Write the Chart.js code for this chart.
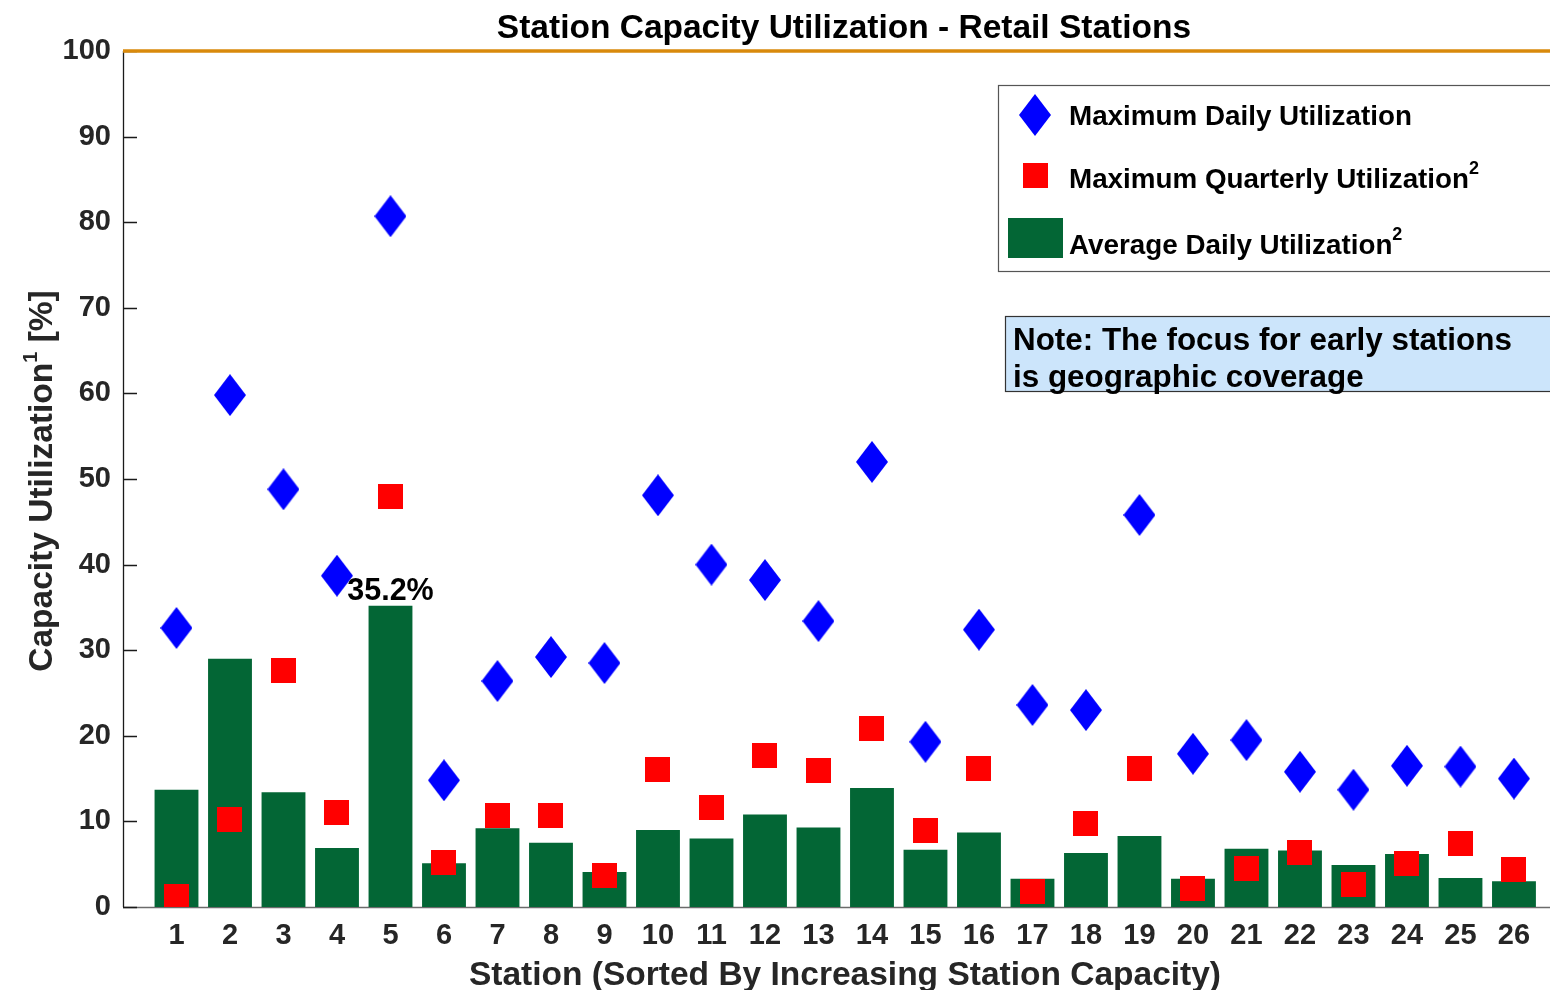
<!DOCTYPE html>
<html>
<head>
<meta charset="utf-8">
<script src="https://cdn.jsdelivr.net/npm/chart.js@4.4.0/dist/chart.umd.min.js"></script>
<style>
  html, body { margin: 0; padding: 0; background: #fff; overflow: hidden; }
  canvas { display: block; }
</style>
</head>
<body>
<canvas id="chart" width="1550" height="990"></canvas>
<script>
// Stations, sorted by increasing station capacity
const stations = [1, 2, 3, 4, 5, 6, 7, 8, 9, 10, 11, 12, 13, 14, 15, 16, 17, 18, 19, 20, 21, 22, 23, 24, 25, 26];

// Maximum daily utilization [%]
const maxDaily = [32.6, 59.8, 48.8, 38.7, 80.7, 14.8, 26.4, 29.2, 28.5, 48.1, 40.0, 38.2, 33.4,
                  52.0, 19.3, 32.4, 23.6, 23.0, 45.8, 17.9, 19.5, 15.8, 13.7, 16.5, 16.4, 15.0];

// Maximum quarterly utilization [%]
const maxQuarterly = [1.2, 10.2, 27.6, 11.0, 47.9, 5.2, 10.7, 10.7, 3.7, 16.1, 11.6, 17.7, 15.9,
                      20.8, 8.9, 16.2, 1.8, 9.7, 16.2, 2.2, 4.5, 6.4, 2.6, 5.1, 7.4, 4.4];

// Average daily utilization [%]
const avgDaily = [13.7, 29.0, 13.4, 6.9, 35.2, 5.1, 9.2, 7.5, 4.1, 9.0, 8.0, 10.8, 9.3,
                  13.9, 6.7, 8.7, 3.3, 6.3, 8.3, 3.3, 6.8, 6.6, 4.9, 6.2, 3.4, 3.0];

const yTicks = [0, 10, 20, 30, 40, 50, 60, 70, 80, 90, 100];
const labelledStation = 5;   // station whose average is written above its bar

const FONT = '"Liberation Sans", Arial, Helvetica, sans-serif';
const AXIS_GREY = '#262626';
const BLUE = '#0000ff';
const RED = '#ff0000';
const GREEN = '#036635';
const ORANGE = '#d98a0c';

// marker glyphs
function diamondMarker(w, h, color) {
  const c = document.createElement('canvas');
  c.width = w; c.height = h;
  const g = c.getContext('2d');
  g.fillStyle = color;
  g.beginPath();
  g.moveTo(w / 2, 0); g.lineTo(w, h / 2); g.lineTo(w / 2, h); g.lineTo(0, h / 2);
  g.closePath(); g.fill();
  return c;
}
function squareMarker(s, color) {
  const c = document.createElement('canvas');
  c.width = s; c.height = s;
  const g = c.getContext('2d');
  g.fillStyle = color;
  g.fillRect(0, 0, s, s);
  return c;
}
const diamond = diamondMarker(32, 42, BLUE);
const square = squareMarker(25, RED);

// text made of runs (e.g. a trailing superscript), drawn from (x, y) on the baseline
function drawRuns(ctx, parts, x, y) {
  let cx = x;
  for (const p of parts) {
    ctx.font = p.font;
    ctx.fillText(p.text, cx, y + (p.rise || 0));
    cx += ctx.measureText(p.text).width;
  }
  return cx - x;
}
function measureRuns(ctx, parts) {
  let w = 0;
  for (const p of parts) { ctx.font = p.font; w += ctx.measureText(p.text).width; }
  return w;
}

const decorations = {
  id: 'decorations',
  beforeDraw(chart) {
    const ctx = chart.ctx;
    ctx.save();
    ctx.fillStyle = '#fff';
    ctx.fillRect(0, 0, chart.width, chart.height);
    ctx.restore();
  },
  beforeDatasetsDraw(chart) {
    const ctx = chart.ctx;
    const a = chart.chartArea;
    const y = chart.scales.y;
    ctx.save();
    // bottom axis
    ctx.strokeStyle = '#6b6b6b';
    ctx.lineWidth = 1.5;
    ctx.beginPath();
    ctx.moveTo(a.left, a.bottom + 0.5); ctx.lineTo(chart.width, a.bottom + 0.5);
    ctx.stroke();
    // left axis with inward ticks
    ctx.strokeStyle = '#1a1a1a';
    ctx.lineWidth = 1.3;
    ctx.beginPath();
    ctx.moveTo(a.left + 0.5, a.top); ctx.lineTo(a.left + 0.5, a.bottom);
    for (const v of yTicks) {
      const py = Math.round(y.getPixelForValue(v)) + 0.5;
      ctx.moveTo(a.left, py); ctx.lineTo(a.left + 14, py);
    }
    ctx.stroke();
    ctx.restore();
  },
  afterDatasetsDraw(chart) {
    const ctx = chart.ctx;
    const a = chart.chartArea;
    ctx.save();

    // top border line
    ctx.strokeStyle = ORANGE;
    ctx.lineWidth = 3.5;
    ctx.beginPath();
    ctx.moveTo(a.left, a.top); ctx.lineTo(chart.width, a.top);
    ctx.stroke();

    // chart title
    ctx.fillStyle = '#000';
    ctx.font = `bold 33.5px ${FONT}`;
    ctx.textAlign = 'center';
    ctx.textBaseline = 'alphabetic';
    ctx.fillText('Station Capacity Utilization - Retail Stations', 844, 38);

    // x axis title
    ctx.fillStyle = AXIS_GREY;
    ctx.font = `bold 33.5px ${FONT}`;
    ctx.fillText('Station (Sorted By Increasing Station Capacity)', 845, 985);

    // y axis title with superscript
    const yParts = [
      { text: 'Capacity Utilization', font: `bold 33.5px ${FONT}` },
      { text: '1', font: `bold 20px ${FONT}`, rise: -15 },
      { text: ' [%]', font: `bold 33.5px ${FONT}` }
    ];
    ctx.save();
    ctx.translate(52, 481);
    ctx.rotate(-Math.PI / 2);
    ctx.fillStyle = AXIS_GREY;
    ctx.textAlign = 'left';
    const yw = measureRuns(ctx, yParts);
    drawRuns(ctx, yParts, -yw / 2, 0);
    ctx.restore();

    // value label above the highlighted bar
    const barMeta = chart.getDatasetMeta(0);
    const idx = stations.indexOf(labelledStation);
    const bar = barMeta.data[idx];
    ctx.fillStyle = '#000';
    ctx.font = `bold 30.5px ${FONT}`;
    ctx.textAlign = 'center';
    ctx.fillText(avgDaily[idx].toFixed(1) + '%', bar.x, bar.y - 6);

    // legend box
    ctx.fillStyle = '#fff';
    ctx.fillRect(998, 85, chart.width - 998, 187);
    ctx.strokeStyle = '#555';
    ctx.lineWidth = 1.2;
    ctx.strokeRect(998.5, 85.5, chart.width, 186);
    ctx.drawImage(diamond, 1035 - 16, 115 - 21);
    ctx.drawImage(square, 1035 - 12.5, 175 - 12.5);
    ctx.fillStyle = GREEN;
    ctx.fillRect(1008, 218, 55, 40);
    ctx.fillStyle = '#000';
    ctx.textAlign = 'left';
    const lf = `bold 27.8px ${FONT}`;
    const sf = `bold 18px ${FONT}`;
    drawRuns(ctx, [{ text: 'Maximum Daily Utilization', font: lf }], 1069, 125);
    drawRuns(ctx, [{ text: 'Maximum Quarterly Utilization', font: lf }, { text: '2', font: sf, rise: -14 }], 1069, 188);
    drawRuns(ctx, [{ text: 'Average Daily Utilization', font: lf }, { text: '2', font: sf, rise: -14 }], 1069, 254);

    // note box
    ctx.fillStyle = '#cce5fb';
    ctx.fillRect(1005, 316, chart.width - 1005, 76);
    ctx.strokeStyle = '#333';
    ctx.lineWidth = 1.2;
    ctx.strokeRect(1005.5, 316.5, chart.width, 75);
    ctx.fillStyle = '#000';
    ctx.font = `bold 31.4px ${FONT}`;
    ctx.fillText('Note: The focus for early stations', 1013, 350);
    ctx.fillText('is geographic coverage', 1013, 387);

    ctx.restore();
  }
};

const toPoints = (vals) => stations.map((s, i) => ({ x: s, y: vals[i] }));

new Chart(document.getElementById('chart'), {
  type: 'bar',
  data: {
    datasets: [
      {
        type: 'bar',
        label: 'Average Daily Utilization',
        data: toPoints(avgDaily),
        backgroundColor: GREEN,
        borderWidth: 0,
        barPercentage: 0.82,
        categoryPercentage: 1.0,
        order: 3
      },
      {
        type: 'scatter',
        label: 'Maximum Quarterly Utilization',
        data: toPoints(maxQuarterly),
        pointStyle: square,
        order: 2
      },
      {
        type: 'scatter',
        label: 'Maximum Daily Utilization',
        data: toPoints(maxDaily),
        pointStyle: diamond,
        order: 1
      }
    ]
  },
  options: {
    responsive: false,
    animation: false,
    devicePixelRatio: 1,
    layout: { padding: { top: 51, left: 0, right: 0, bottom: 0 } },
    plugins: {
      legend: { display: false },
      title: { display: false },
      tooltip: { enabled: false }
    },
    scales: {
      x: {
        type: 'linear',
        min: 0,
        max: 26.58,
        offset: false,
        grid: { display: false, drawTicks: false },
        border: { display: false },
        afterBuildTicks: (s) => { s.ticks = stations.map(v => ({ value: v })); },
        afterFit: (s) => { s.height = 83; },
        ticks: {
          autoSkip: false,
          maxRotation: 0,
          padding: 12,
          color: AXIS_GREY,
          font: { family: FONT, size: 29, weight: 'bold' }
        },
        title: { display: false }
      },
      y: {
        min: 0,
        max: 100,
        grid: { display: false, drawTicks: false },
        border: { display: false },
        afterBuildTicks: (s) => { s.ticks = yTicks.map(v => ({ value: v })); },
        afterFit: (s) => { s.width = 123; },
        ticks: {
          padding: 12,
          color: AXIS_GREY,
          font: { family: FONT, size: 29, weight: 'bold' }
        }
      }
    }
  },
  plugins: [decorations]
});
</script>
</body>
</html>
